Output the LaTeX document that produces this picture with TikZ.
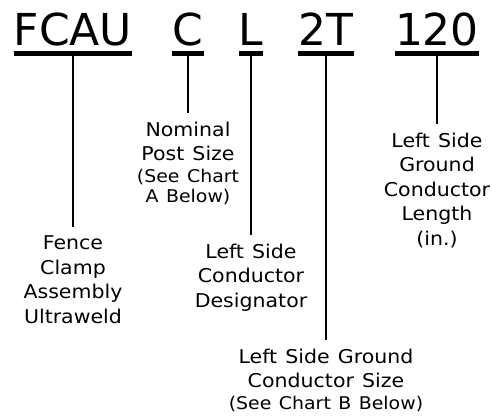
\documentclass[tikz,border=0pt]{standalone}
\usepackage{fontspec}
\setmainfont{DejaVu Sans}
\newfontfamily\labelfont[FakeStretch=1.08, WordSpace=1.25]{DejaVu Sans}
\usetikzlibrary{positioning}

\newcommand{\smalldesc}[1]{{\fontsize{17.5}{21}\selectfont #1}}

\begin{document}
\begin{tikzpicture}[x=1pt, y=-1pt,
        code/.style = {font=\fontsize{44}{50}\selectfont, inner sep=0pt, anchor=base},
        desc/.style = {font=\labelfont\fontsize{19}{24.5}\selectfont, align=center, anchor=north, inner xsep=0pt, inner ysep=9pt},
        bar/.style = {line width=4.8pt},
        lead/.style = {line width=2pt}]
    \useasboundingbox (0,0) rectangle (492,416);

    % part number
    \node[code] (fcau) at (73,45) {FCAU};
    \node[code] (post) at (188,45) {C};
    \node[code] (side) at (251,45) {L};
    \node[code] (size) at (326,45) {2T};
    \node[code] (length) at (437,45) {120};

    \foreach \p in {fcau, post, side, size, length} {
        \draw[bar] ([yshift=-8.5pt]\p.base west) -- ([yshift=-8.5pt]\p.base east);
        \coordinate (\p-bar) at ([yshift=-8.5pt]\p.base);
    }

    % descriptions
    \node[desc] (fcau-desc) at (73,226.5) {Fence\\Clamp\\Assembly\\Ultraweld};
    \node[desc] (post-desc) at (188,112.5) {Nominal\\Post Size\\[-3pt]\smalldesc{(See Chart}\\[-4pt]\smalldesc{A Below)}};
    \node[desc] (side-desc) at (251,234.5) {Left Side\\Conductor\\Designator};
    \node[desc] (size-desc) at (326,339.5) {Left Side Ground\\Conductor Size\\[-3pt]\smalldesc{(See Chart B Below)}};
    \node[desc] (length-desc) at (437,123.5) {Left Side\\Ground\\Conductor\\Length\\(in.)};

    \foreach \p in {fcau, post, side, size, length}
        \draw[lead] (\p-bar) -- (\p-desc.north);
\end{tikzpicture}
\end{document}
